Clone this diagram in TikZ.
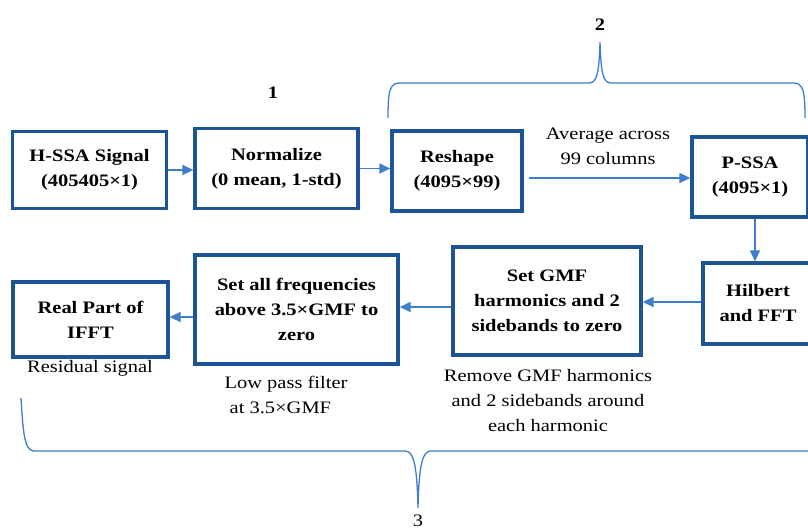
\documentclass[tikz,border=0pt]{standalone}
\usepackage{fontspec}
\setmainfont[FakeStretch=1.17]{Liberation Serif}
\usetikzlibrary{arrows.meta}
\definecolor{boxblue}{RGB}{28,84,150}
\definecolor{arrblue}{RGB}{62,126,204}
\begin{document}
\begin{tikzpicture}[x=1pt,y=-1pt,
  every node/.style={font=\fontsize{17.5}{25}\selectfont},
  blk/.style={draw=boxblue, line width=3.3pt, align=center, inner sep=2pt, font=\fontsize{17.5}{25}\selectfont\bfseries},
  flow/.style={draw=arrblue, line width=1.4pt, -{Triangle[length=11pt,width=10pt]}},
  brc/.style={draw=arrblue, line width=1.3pt},
  lab/.style={align=center, font=\fontsize{17.5}{25}\selectfont}
]
\useasboundingbox (0,0) rectangle (808,530);
\fill[white] (0,0) rectangle (808,530);

\node[blk, minimum width=154pt, minimum height=77pt] (hssa) at (89.5,170) {H-SSA Signal\\(405405×1)};
\node[blk, minimum width=163pt, minimum height=80pt] (norm) at (276.5,168.5) {Normalize\\(0 mean, 1-std)};
\node[blk, minimum width=130pt, minimum height=80pt] (resh) at (457,171) {Reshape\\(4095×99)};
\node[blk, minimum width=116pt, minimum height=80pt] (pssa) at (750,177) {P-SSA\\(4095×1)};
\node[blk, minimum width=110pt, minimum height=81pt] (hilb) at (758,303.5) {Hilbert\\and FFT};
\node[blk, minimum width=188pt, minimum height=108pt] (sgmf) at (547,301) {Set GMF\\harmonics and 2\\sidebands to zero};
\node[blk, minimum width=203pt, minimum height=109pt] (sall) at (296.5,309.5) {Set all frequencies\\above 3.5×GMF to\\zero};
\node[blk, minimum width=155pt, minimum height=75pt] (real) at (90.5,319.5) {Real Part of\\IFFT};

\node[lab] (avg) at (608,146) {Average across\\99 columns};
\node[lab] (rem) at (548,401) {Remove GMF harmonics\\and 2 sidebands around\\each harmonic};
\node[lab, align=left] (low) at (286,395) {Low pass filter\\\ at 3.5×GMF};
\node[lab] (resid) at (90,368) {Residual signal};

\node[font=\fontsize{17.5}{20}\selectfont\bfseries] (n1) at (273,93) {1};
\node[font=\fontsize{17.5}{20}\selectfont\bfseries] (n2) at (600,25) {2};
\node[font=\fontsize{17.5}{20}\selectfont] (n3) at (418,521) {3};

\draw[flow] (hssa.east) -- (norm.west |- hssa.east);
\draw[flow] (norm.east) -- (resh.west |- norm.east);
\draw[flow] ([xshift=5pt]resh.east |- 0,178) -- (pssa.west |- 0,178);
\draw[flow] (pssa.south -| 755,0) -- (hilb.north -| 755,0);
\draw[flow] (hilb.west |- 0,302) -- (sgmf.east |- 0,302);
\draw[flow] (sgmf.west |- 0,307) -- (sall.east |- 0,307);
\draw[flow] (sall.west |- 0,317) -- (real.east |- 0,317);

\draw[brc] (388,118) .. controls (388,90) and (390,83) .. (400,83) -- (588,83)
  .. controls (596,83) and (599,78) .. (600,42)
  .. controls (601,78) and (604,83) .. (612,83) -- (793,83)
  .. controls (803,83) and (805,90) .. (805,118);
\draw[brc] (21,398) .. controls (23,430) and (24,451) .. (34,451) -- (405,451)
  .. controls (413,451) and (417,462) .. (418,508)
  .. controls (419,462) and (423,451) .. (431,451) -- (815,451);
\end{tikzpicture}
\end{document}
